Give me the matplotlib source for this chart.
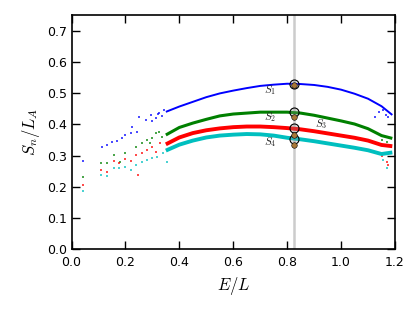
import matplotlib
matplotlib.use("Agg")
import matplotlib.pyplot as plt

plt.rcParams["mathtext.fontset"] = "cm"

# Dense band centre lines (E/L, S_n/L_A)
band_E = [0.35, 0.40, 0.45, 0.50, 0.55, 0.60, 0.65, 0.70, 0.75, 0.80, 0.85,
          0.90, 0.95, 1.00, 1.05, 1.10, 1.15, 1.19]
band_S1 = [0.440, 0.457, 0.472, 0.487, 0.499, 0.508, 0.516, 0.523, 0.527, 0.530, 0.529,
           0.526, 0.520, 0.511, 0.498, 0.482, 0.458, 0.430]
band_S2 = [0.366, 0.390, 0.404, 0.416, 0.427, 0.433, 0.436, 0.439, 0.439, 0.439, 0.436,
           0.429, 0.420, 0.411, 0.401, 0.386, 0.364, 0.355]
band_S3 = [0.336, 0.358, 0.372, 0.381, 0.387, 0.391, 0.393, 0.393, 0.391, 0.388, 0.384,
           0.378, 0.371, 0.364, 0.357, 0.348, 0.334, 0.330]
band_S4 = [0.316, 0.335, 0.348, 0.358, 0.364, 0.367, 0.369, 0.368, 0.364, 0.357, 0.352,
           0.346, 0.339, 0.332, 0.325, 0.317, 0.305, 0.310]

# Sparse scattered points
sp1_E = [0.042, 0.112, 0.130, 0.151, 0.170, 0.188, 0.200, 0.220, 0.226, 0.243, 0.251, 0.275,
         0.294, 0.313, 0.325, 0.343, 0.300, 0.320, 0.335, 1.126, 1.140, 1.157, 1.165, 1.175]
sp1_S = [0.284, 0.327, 0.334, 0.343, 0.348, 0.356, 0.366, 0.372, 0.393, 0.377, 0.425, 0.415,
         0.431, 0.421, 0.436, 0.447, 0.410, 0.432, 0.428, 0.425, 0.440, 0.447, 0.430, 0.425]
sp2_E = [0.042, 0.109, 0.130, 0.158, 0.180, 0.200, 0.238, 0.263, 0.280, 0.300, 0.313, 0.325,
         0.290, 0.335, 1.150, 1.170, 1.185]
sp2_S = [0.230, 0.276, 0.276, 0.302, 0.281, 0.308, 0.329, 0.340, 0.350, 0.356, 0.372, 0.377,
         0.340, 0.360, 0.350, 0.345, 0.355]
sp3_E = [0.042, 0.109, 0.130, 0.158, 0.176, 0.200, 0.220, 0.238, 0.245, 0.263, 0.280, 0.300,
         0.313, 0.330, 1.150, 1.169, 1.175]
sp3_S = [0.206, 0.254, 0.249, 0.283, 0.276, 0.289, 0.282, 0.302, 0.238, 0.307, 0.318, 0.329,
         0.313, 0.340, 0.300, 0.281, 0.270]
sp4_E = [0.042, 0.109, 0.130, 0.158, 0.176, 0.200, 0.220, 0.238, 0.263, 0.280, 0.300, 0.318,
         0.338, 0.356, 1.157, 1.169]
sp4_S = [0.188, 0.238, 0.235, 0.260, 0.260, 0.265, 0.255, 0.270, 0.281, 0.286, 0.292, 0.297,
         0.308, 0.279, 0.286, 0.260]

E_mark = 0.825
big_S = [0.529, 0.440, 0.387, 0.354]
small_S = [0.527, 0.425, 0.366, 0.333]

labels = ["$S_1$", "$S_2$", "$S_3$", "$S_4$"]
label_E = [0.737, 0.737, 0.925, 0.737]
label_S = [0.511, 0.423, 0.402, 0.342]

colors = ["#0000ff", "#008000", "#ff0000", "#00bfbf"]
widths = [1.4, 2.2, 2.8, 2.8]

fig = plt.figure(figsize=(4.15, 3.12), dpi=100)
ax = fig.add_axes([71.5/415, 1 - 249.3/312, (395-71.5)/415, (249.3-15)/312])

for S, c, w in zip([band_S1, band_S2, band_S3, band_S4], colors, widths):
    ax.plot(band_E, S, color=c, lw=w, solid_capstyle="butt")
for E, S, c in zip([sp1_E, sp2_E, sp3_E, sp4_E], [sp1_S, sp2_S, sp3_S, sp4_S], colors):
    ax.scatter(E, S, s=2, color=c, marker="s", linewidths=0, alpha=0.7)

ax.axvline(E_mark, color="0.8", lw=1.8, zorder=0)
ax.plot([E_mark]*4, big_S, "o", ms=6.5, mfc=(0.6, 0.6, 0.6, 0.3), mec="k", mew=0.8, ls="none", zorder=4)
ax.plot([E_mark]*4, small_S, "o", ms=4, mfc="#a97838", mec="k", mew=0.4, ls="none", zorder=5)

for t, x, y in zip(labels, label_E, label_S):
    ax.text(x, y, t, fontsize=8, ha="center", va="center", color="0.15")

ax.set_xlim(0, 1.2)
ax.set_ylim(0, 0.75)
ax.set_xticks([0.0, 0.2, 0.4, 0.6, 0.8, 1.0, 1.2])
ax.set_yticks([0.0, 0.1, 0.2, 0.3, 0.4, 0.5, 0.6, 0.7])
ax.tick_params(direction="in", top=True, right=True, labelsize=9, length=5.5, width=1)
ax.tick_params(axis="y", pad=3)
ax.tick_params(axis="x", pad=5)
for s in ax.spines.values():
    s.set_linewidth(1.2)
ax.set_xlabel("$E/L$", fontsize=12)
ax.set_ylabel("$S_n/L_A$", fontsize=12)

fig.savefig("out.png", dpi=100)
